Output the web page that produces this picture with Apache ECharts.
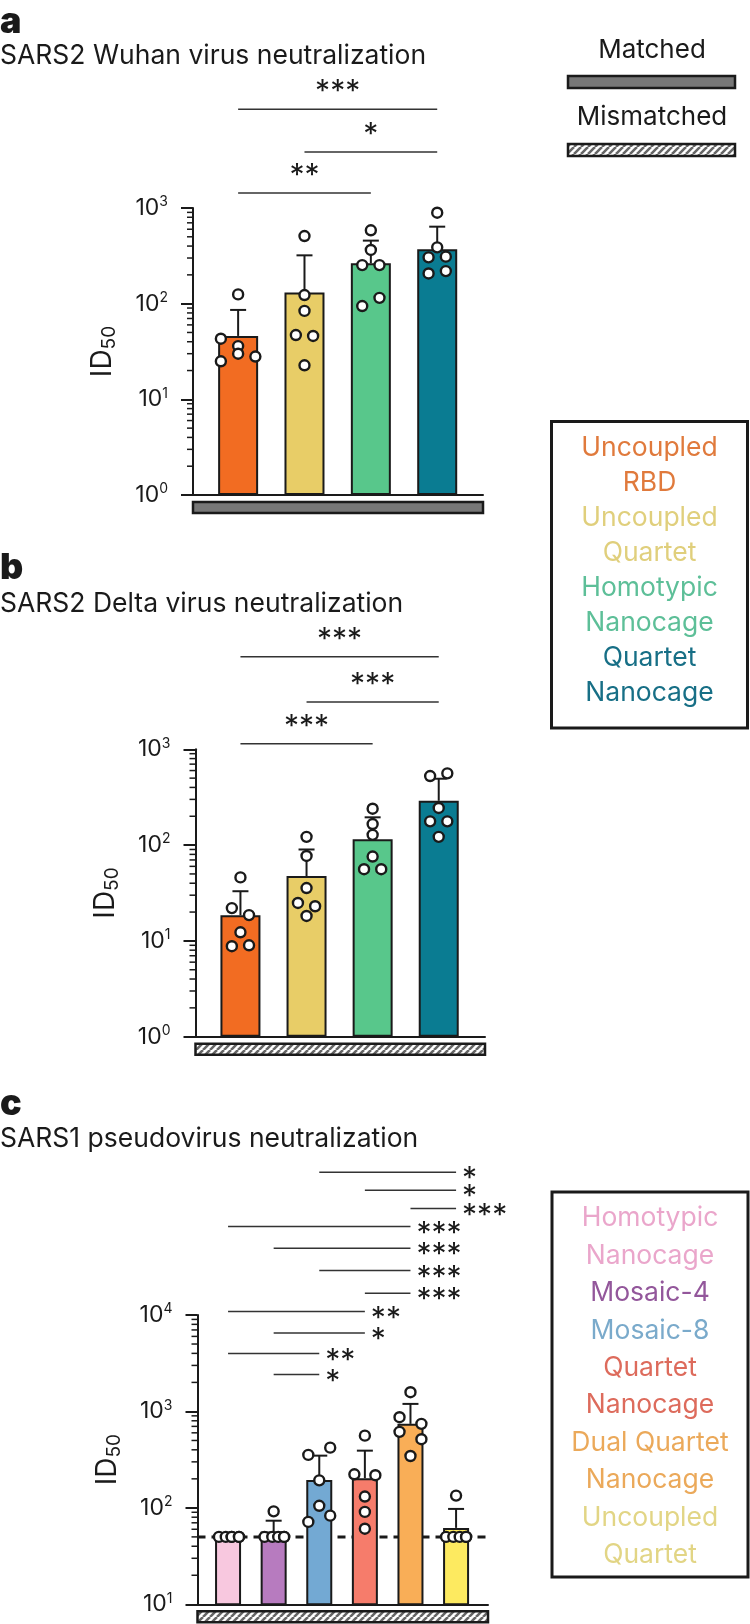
<!DOCTYPE html>
<html><head><meta charset="utf-8">
<script src="https://cdn.jsdelivr.net/npm/echarts@6/dist/echarts.min.js"></script>
<style>html,body{margin:0;padding:0;background:#fff}#c{width:750px;height:1624px}</style>
</head><body><div id="c"></div>
<script>
const FONT = 'Inter';
const INK = '#1a1a1a';

// ---------- Panel a: SARS2 Wuhan ----------
const aCategories = ['Uncoupled RBD', 'Uncoupled Quartet', 'Homotypic Nanocage', 'Quartet Nanocage'];
const aMeans = [46, 131, 264, 370];
const aSD = [40, 189, 192, 268];
const aPoints = [[125, 43, 36, 30, 28, 25], [509, 123, 84, 47, 46, 22.7], [585, 364, 253, 253, 94.5, 115], [893, 388, 305, 310, 207, 219]];
const aJitter = [[0, -0.26, 0, 0, 0.26, -0.26], [0, 0, 0, -0.13, 0.13, 0], [0, 0, -0.13, 0.13, -0.13, 0.13], [0, 0, -0.13, 0.13, -0.13, 0.13]];
const aSig = [[0, 3, 10800, '***'], [1, 3, 3850, '*'], [0, 2, 1435, '**']];

// ---------- Panel b: SARS2 Delta ----------
const bMeans = [18.5, 47.6, 115, 290];
const bSD = [14.5, 42.4, 80, 203];
const bPoints = [[46, 22, 18.6, 12.3, 8.8, 9.0], [122, 77, 35.6, 24.9, 23, 18.2], [240, 166, 128, 76, 56, 56], [526, 561, 244, 177, 177, 122]];
const bJitter = [[0, -0.13, 0.13, 0, -0.13, 0.13], [0, 0, 0, -0.13, 0.13, 0], [0, 0, 0, 0, -0.13, 0.13], [-0.13, 0.13, 0, -0.13, 0.13, 0]];
const bSig = [[0, 3, 9270, '***'], [1, 3, 3120, '***'], [0, 2, 1143, '***']];

// ---------- Panel c: SARS1 pseudovirus ----------
const cCategories = ['Homotypic Nanocage', 'Mosaic-4', 'Mosaic-8', 'Quartet Nanocage', 'Dual Quartet Nanocage', 'Uncoupled Quartet'];
const cMeans = [50, 57, 194, 203, 743, 62];
const cSD = [0, 16.6, 154, 189, 454, 35.5];
const cPoints = [[50, 50, 50, 50, 50, 50], [92, 50, 50, 50, 50, 50], [354, 421, 193, 105, 83, 71.5], [561, 223, 218, 131, 90.8, 60.8], [1582, 871, 743, 614, 515, 345], [134, 50, 50, 50, 50, 50]];
const cJitter = [[-0.2, -0.05, 0.08, 0.08, 0.24, 0.24], [0, -0.2, -0.03, 0.1, 0.23, 0.23], [-0.24, 0.24, 0, 0, 0.24, -0.24], [0, -0.23, 0.23, 0, 0, 0], [0, -0.24, 0.24, -0.24, 0.24, 0], [0, -0.22, -0.06, 0.08, 0.22, 0.22]];
const cSig = [[2, 5, 302700, '*'], [3, 5, 197200, '*'], [4, 5, 127000, '***'], [0, 4, 82600, '***'], [1, 4, 49300, '***'], [2, 4, 28900, '***'], [3, 4, 16800, '***'], [0, 3, 10840, '**'], [1, 3, 6520, '*'], [0, 2, 3980, '**'], [1, 2, 2410, '*']];
const cDetectionLimit = 50;

// tick exponents
const abTickExponents = [0, 1, 2, 3];
const cTickExponents = [1, 2, 3, 4];

// colours
const aColors = ['#f26c22', '#e8cd67', '#58c78b', '#0a7c92'];
const cColors = ['#f8c8df', '#b77bbf', '#73a9d3', '#f67c6b', '#f9ae57', '#fdea60'];
const abLegendColors = ['#e07a3c', '#e0cf7c', '#5dbf98', '#176f86'];
const cLegendColors = ['#eaa6cb', '#93579b', '#7aaacb', '#dd6b5c', '#eba95a', '#e2d585'];
const abLegendLines = [['Uncoupled', 'RBD'], ['Uncoupled', 'Quartet'], ['Homotypic', 'Nanocage'], ['Quartet', 'Nanocage']];
const cLegendLines = [['Homotypic', 'Nanocage'], ['Mosaic-4'], ['Mosaic-8'], ['Quartet', 'Nanocage'], ['Dual Quartet', 'Nanocage'], ['Uncoupled', 'Quartet']];

function makeHatch() {
  const s = 7;
  const c = document.createElement('canvas');
  c.width = s; c.height = s;
  const g = c.getContext('2d');
  g.fillStyle = '#ffffff'; g.fillRect(0, 0, s, s);
  g.strokeStyle = '#666666'; g.lineWidth = 2.6;
  g.beginPath();
  for (const k of [-s, 0, s]) { g.moveTo(k, s); g.lineTo(k + s, 0); }
  g.stroke();
  return c;
}
const hatch = { image: makeHatch(), repeat: 'repeat' };

const panels = [
  { grid: { left: 193, top: 208, width: 290, height: 287 }, xMin: -0.68, xMax: 3.69, exps: abTickExponents,
    means: aMeans, sd: aSD, pts: aPoints, jit: aJitter, sig: aSig, colors: aColors, barWidth: 40, sigPos: 'above', band: 'solid' },
  { grid: { left: 195.5, top: 749.3, width: 289.5, height: 287.4 }, xMin: -0.68, xMax: 3.70, exps: abTickExponents,
    means: bMeans, sd: bSD, pts: bPoints, jit: bJitter, sig: bSig, colors: aColors, barWidth: 40, sigPos: 'above', band: 'hatch' },
  { grid: { left: 197.5, top: 1315, width: 290.5, height: 289.3 }, xMin: -0.67, xMax: 5.70, exps: cTickExponents,
    means: cMeans, sd: cSD, pts: cPoints, jit: cJitter, sig: cSig, colors: cColors, barWidth: 26, sigPos: 'right', band: 'hatch', lod: cDetectionLimit }
];

const grids = [], xAxes = [], yAxes = [], series = [];
panels.forEach((p, k) => {
  const yMin = Math.pow(10, p.exps[0]);
  const yMax = Math.pow(10, p.exps[p.exps.length - 1]);
  grids.push(Object.assign({ containLabel: false }, p.grid));
  xAxes.push({
    type: 'value', gridIndex: k, min: p.xMin, max: p.xMax,
    axisLine: { show: true, onZero: false, lineStyle: { color: INK, width: 2 } },
    axisTick: { show: false }, axisLabel: { show: false }, splitLine: { show: false }
  });
  yAxes.push({
    type: 'log', logBase: 10, gridIndex: k, min: yMin, max: yMax,
    axisLine: { show: true, onZero: false, lineStyle: { color: INK, width: 2 } },
    axisTick: { show: true, length: 12, lineStyle: { color: INK, width: 2 } },
    splitLine: { show: false },
    axisLabel: {
      margin: 25,
      formatter: v => '{b|10}{s|' + Math.round(Math.log10(v)) + '}',
      rich: {
        b: { fontSize: 23, fontFamily: FONT, color: INK, lineHeight: 26 },
        s: { fontSize: 14, fontFamily: FONT, color: INK, verticalAlign: 'top', lineHeight: 15 }
      }
    },
    name: '{i|ID}{s|50}', nameLocation: 'middle', nameRotate: 90, nameGap: 74,
    nameTextStyle: {
      rich: {
        i: { fontSize: 28, fontFamily: FONT, color: INK, lineHeight: 32 },
        s: { fontSize: 19, fontFamily: FONT, color: INK, verticalAlign: 'bottom', lineHeight: 17 }
      }
    }
  });

  // detection limit dashed line (behind bars)
  if (p.lod) {
    series.push({
      type: 'custom', xAxisIndex: k, yAxisIndex: k, z: 1, silent: true,
      data: [[p.xMin, p.lod, p.xMax]],
      renderItem: (params, api) => {
        const a = api.coord([api.value(0), api.value(1)]);
        const b = api.coord([api.value(2), api.value(1)]);
        return { type: 'line', shape: { x1: a[0], y1: a[1], x2: b[0], y2: b[1] },
          style: { stroke: INK, lineWidth: 3, lineDash: [8, 6] } };
      }
    });
  }

  // bars
  series.push({
    type: 'bar', xAxisIndex: k, yAxisIndex: k, z: 2, barWidth: p.barWidth, silent: true,
    data: p.means.map((m, i) => ({ value: [i, m], itemStyle: { color: p.colors[i] } })),
    itemStyle: { borderColor: INK, borderWidth: 2 }
  });

  // error bars (mean + SD)
  series.push({
    type: 'custom', xAxisIndex: k, yAxisIndex: k, z: 3, silent: true,
    data: p.means.map((m, i) => [i, m, m + p.sd[i]]),
    renderItem: (params, api) => {
      if (api.value(2) <= api.value(1)) return null;
      const a = api.coord([api.value(0), api.value(1)]);
      const b = api.coord([api.value(0), api.value(2)]);
      return { type: 'group', children: [
        { type: 'line', shape: { x1: a[0], y1: a[1], x2: b[0], y2: b[1] }, style: { stroke: INK, lineWidth: 2 } },
        { type: 'line', shape: { x1: b[0] - 8, y1: b[1], x2: b[0] + 8, y2: b[1] }, style: { stroke: INK, lineWidth: 2 } }
      ] };
    }
  });

  // individual points
  const pts = [];
  p.pts.forEach((arr, i) => arr.forEach((v, j) => pts.push([i + p.jit[i][j], v])));
  series.push({
    type: 'scatter', xAxisIndex: k, yAxisIndex: k, z: 4, silent: true,
    symbol: 'circle', symbolSize: 10, data: pts,
    itemStyle: { color: '#ffffff', borderColor: INK, borderWidth: 2.4, opacity: 1 }
  });

  // significance bars
  series.push({
    type: 'custom', xAxisIndex: k, yAxisIndex: k, z: 4, silent: true, clip: false,
    data: p.sig.map(s => [s[0], s[2], s[1]]),
    renderItem: (params, api) => {
      const a = api.coord([api.value(0), api.value(1)]);
      const b = api.coord([api.value(2), api.value(1)]);
      const label = p.sig[params.dataIndex][3];
      const kids = [{ type: 'line', shape: { x1: a[0], y1: a[1], x2: b[0], y2: b[1] }, style: { stroke: '#333', lineWidth: 1.5 } }];
      if (p.sigPos === 'above') {
        kids.push({ type: 'text', x: (a[0] + b[0]) / 2, y: a[1] - 2,
          style: { text: label, fill: INK, fontSize: 30, fontFamily: FONT, align: 'center', verticalAlign: 'bottom' } });
      } else {
        kids.push({ type: 'text', x: b[0] + 6, y: a[1] + 7,
          style: { text: label, fill: INK, fontSize: 30, fontFamily: FONT, align: 'left', verticalAlign: 'middle' } });
      }
      return { type: 'group', children: kids };
    }
  });

  // minor log ticks (2..9 x 10^n)
  const minor = [];
  for (let e = p.exps[0]; e < p.exps[p.exps.length - 1]; e++) for (let m = 2; m <= 9; m++) minor.push([p.xMin, m * Math.pow(10, e)]);
  series.push({
    type: 'custom', xAxisIndex: k, yAxisIndex: k, z: 4, silent: true, clip: false,
    data: minor,
    renderItem: (params, api) => {
      const a = api.coord([api.value(0), api.value(1)]);
      return { type: 'line', shape: { x1: a[0] - 6, y1: a[1], x2: a[0], y2: a[1] }, style: { stroke: INK, lineWidth: 1.5 } };
    }
  });

  // matched / mismatched band under the axis
  series.push({
    type: 'custom', xAxisIndex: k, yAxisIndex: k, z: 4, silent: true, clip: false,
    data: [[p.xMin, yMin, p.xMax]],
    renderItem: (params, api) => {
      const a = api.coord([api.value(0), api.value(1)]);
      const b = api.coord([api.value(2), api.value(1)]);
      return { type: 'rect', shape: { x: a[0], y: a[1] + 7, width: b[0] - a[0], height: 11 },
        style: { fill: p.band === 'solid' ? '#777777' : hatch, stroke: INK, lineWidth: 2.5 } };
    }
  });
});

// ---------- text / legends ----------
const graphic = [];
function txt(x, y, text, opt) {
  graphic.push({ type: 'text', x, y, silent: true,
    style: Object.assign({ text, fill: INK, fontSize: 26.5, fontFamily: FONT, align: 'left', verticalAlign: 'middle' }, opt || {}) });
}
txt(0, 22, 'a', { fontSize: 36, fontWeight: 900 });
txt(0, 56, 'SARS2 Wuhan virus neutralization');
txt(0, 568, 'b', { fontSize: 36, fontWeight: 900 });
txt(0, 604, 'SARS2 Delta virus neutralization');
txt(0, 1104, 'c', { fontSize: 36, fontWeight: 900 });
txt(0, 1139, 'SARS1 pseudovirus neutralization');

// matched / mismatched key
txt(652, 50, 'Matched', { align: 'center', fontSize: 26 });
graphic.push({ type: 'rect', silent: true, shape: { x: 568, y: 76, width: 167, height: 12 }, style: { fill: '#777777', stroke: INK, lineWidth: 2.5 } });
txt(652, 117, 'Mismatched', { align: 'center', fontSize: 26 });
graphic.push({ type: 'rect', silent: true, shape: { x: 568, y: 144, width: 167, height: 12 }, style: { fill: hatch, stroke: INK, lineWidth: 2.5 } });

// colour keys
function colourKey(box, firstY, step, lines, colors) {
  graphic.push({ type: 'rect', silent: true, shape: box, style: { fill: 'none', stroke: INK, lineWidth: 3 } });
  let y = firstY;
  lines.forEach((ls, i) => ls.forEach(t => { txt(box.x + box.width / 2, y, t, { align: 'center', fontSize: 26.5, fill: colors[i] }); y += step; }));
}
colourKey({ x: 551.5, y: 421.5, width: 196, height: 306.5 }, 448.5, 35, abLegendLines, abLegendColors);
colourKey({ x: 552, y: 1192, width: 196, height: 385 }, 1218.5, 37.4, cLegendLines, cLegendColors);

const chart = echarts.init(document.getElementById('c'), null, { renderer: 'canvas', width: 750, height: 1624 });
chart.setOption({
  animation: false,
  backgroundColor: '#ffffff',
  grid: grids, xAxis: xAxes, yAxis: yAxes, series: series, graphic: graphic
});
</script>
</body></html>
